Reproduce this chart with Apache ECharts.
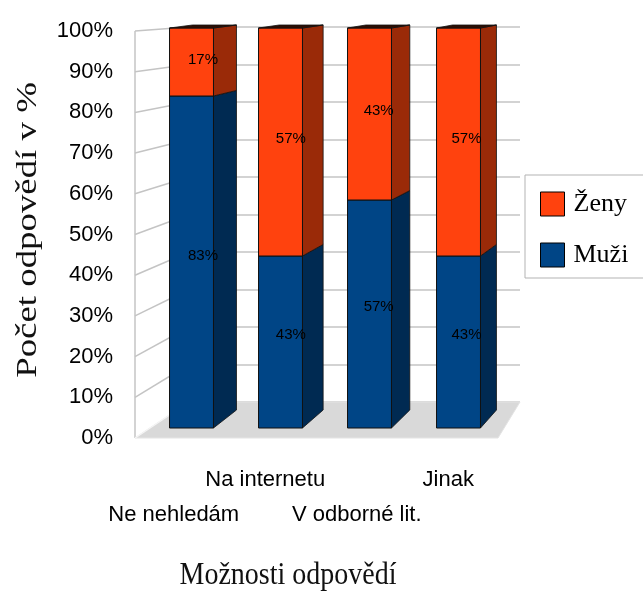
<!DOCTYPE html>
<html>
<head>
<meta charset="utf-8">
<script src="https://cdn.jsdelivr.net/npm/echarts@6/dist/echarts.min.js"></script>
<style>
  html, body { margin: 0; padding: 0; background: #fff; }
  #chart { width: 643px; height: 593px; }
</style>
</head>
<body>
<div id="chart"></div>
<script>
// Answer categories and the share of men / women per answer (percent)
const categories = ['Ne nehledám', 'Na internetu', 'V odborné lit.', 'Jinak'];
const muzi = [83, 43, 57, 43];
const zeny = [17, 57, 43, 57];

// Percent scale of the value axis
const yMin = 0;
const yMax = 100;
const yStep = 10;

const seriesNames = ['Ženy', 'Muži'];

// Colours
const ORANGE = '#ff420e', ORANGE_SIDE = '#9a2a08', ORANGE_TOP = '#2e0e03';
const BLUE = '#004586', BLUE_SIDE = '#002a52';
const GRID_GRAY = '#c4c4c4';
const FLOOR_GRAY = '#d9d9d9';

// Pseudo-3D depth: horizontal shift shrinks towards the right,
// vertical shift grows towards the floor
function depthX(xc) { return 23 - (xc - 191.5) * 0.0263; }
function depthY(y) { return 3 + (y - 28) * 0.0375; }

function makeRenderer(front, side, top) {
  return function (params, api) {
    const cat = api.value(0);
    const lo = api.value(1);
    const hi = api.value(2);
    const isTop = api.value(3);
    const shown = api.value(4);
    const pLo = api.coord([cat, lo]);
    const pHi = api.coord([cat, hi]);
    const bw = api.size([1, 0])[0] * 0.494;
    const xc = pLo[0];
    const x0 = xc - bw / 2, x1 = xc + bw / 2;
    const yB = pLo[1], yT = pHi[1];
    const dx = depthX(xc);
    const dyB = depthY(yB), dyT = depthY(yT);
    const children = [
      {
        type: 'polygon',
        shape: { points: [[x1, yT], [x1 + dx, yT - dyT], [x1 + dx, yB - dyB], [x1, yB]] },
        style: { fill: side, stroke: '#111', lineWidth: 0.8 }
      },
      {
        type: 'rect',
        shape: { x: x0, y: yT, width: bw, height: yB - yT },
        style: { fill: front, stroke: '#111', lineWidth: 1 }
      }
    ];
    if (isTop) {
      children.push({
        type: 'polygon',
        shape: { points: [[x0, yT], [x1, yT], [x1 + dx, yT - dyT], [x0 + dx, yT - dyT]] },
        style: { fill: top, stroke: '#111', lineWidth: 0.8 }
      });
    }
    const yMid = (yT + yB) / 2;
    children.push({
      type: 'text',
      x: xc + dx / 2,
      y: yMid - depthY(yMid) / 2,
      style: {
        text: shown + '%',
        font: '15px "Liberation Sans Narrow", "Liberation Sans", sans-serif',
        fill: '#000',
        align: 'center',
        verticalAlign: 'middle'
      }
    });
    return { type: 'group', children: children };
  };
}

const muziData = muzi.map((v, i) => [i, 0, v, 0, v]);
const zenyData = zeny.map((v, i) => [i, muzi[i], muzi[i] + v, 1, v]);

const chart = echarts.init(document.getElementById('chart'), null, { renderer: 'canvas' });

chart.setOption({
  animation: false,
  backgroundColor: '#fff',
  grid: [
    // front plane of the bars
    { left: 147, width: 356, top: 28, height: 400 },
    // axis labels along the front edge
    { left: 128, width: 366, top: 31, height: 407 },
    // back wall
    { left: 189, width: 331, top: 27, height: 375 }
  ],
  xAxis: [
    { type: 'category', gridIndex: 0, data: categories, show: false },
    {
      type: 'category', gridIndex: 1, data: categories,
      axisLine: { show: false }, axisTick: { show: false },
      axisLabel: {
        interval: 0,
        margin: 24,
        lineHeight: 35,
        fontFamily: '"Liberation Sans", Arial, sans-serif',
        fontSize: 22,
        color: '#000',
        formatter: (v, i) => (i % 2 === 0 ? '\n' + v : v)
      }
    },
    { type: 'value', gridIndex: 2, show: false }
  ],
  yAxis: [
    { type: 'value', gridIndex: 0, min: yMin, max: yMax, show: false },
    {
      type: 'value', gridIndex: 1, min: yMin, max: yMax, interval: yStep,
      axisLine: { show: false }, axisTick: { show: false }, splitLine: { show: false },
      axisLabel: {
        margin: 15,
        formatter: '{value}%',
        fontFamily: '"Liberation Sans", Arial, sans-serif',
        fontSize: 22,
        color: '#000'
      }
    },
    {
      type: 'value', gridIndex: 2, min: yMin, max: yMax, interval: yStep,
      axisLine: { show: false }, axisTick: { show: false }, axisLabel: { show: false },
      splitLine: { show: true, lineStyle: { color: GRID_GRAY, width: 1.5 } }
    }
  ],
  legend: {
    orient: 'vertical',
    left: 525,
    top: 175,
    itemWidth: 24,
    itemHeight: 24,
    itemGap: 25,
    padding: [16, 40, 10, 15],
    borderColor: '#b3b3b3',
    borderWidth: 1,
    backgroundColor: '#fff',
    selectedMode: false,
    textStyle: {
      fontFamily: '"Liberation Serif", "Times New Roman", serif',
      fontSize: 26,
      color: '#000',
      padding: [0, 0, 0, 4]
    },
    data: [
      { name: seriesNames[0], icon: 'rect', itemStyle: { color: ORANGE, borderColor: '#000', borderWidth: 1 } },
      { name: seriesNames[1], icon: 'rect', itemStyle: { color: BLUE, borderColor: '#000', borderWidth: 1 } }
    ]
  },
  series: [
    {
      name: seriesNames[1], type: 'custom', xAxisIndex: 0, yAxisIndex: 0, z: 3,
      itemStyle: { color: BLUE },
      renderItem: makeRenderer(BLUE, BLUE_SIDE, BLUE),
      encode: { x: 0, y: [1, 2] },
      data: muziData
    },
    {
      name: seriesNames[0], type: 'custom', xAxisIndex: 0, yAxisIndex: 0, z: 3,
      itemStyle: { color: ORANGE },
      renderItem: makeRenderer(ORANGE, ORANGE_SIDE, ORANGE_TOP),
      encode: { x: 0, y: [1, 2] },
      data: zenyData
    }
  ]
});

// Walls, floor and axis titles, placed from the value axes' pixel scale
const wallFrontX = 135, wallBackX = 189, floorFrontRight = 498, floorBackRight = 520;
const deco = [];
const floorFrontY = chart.convertToPixel({ yAxisIndex: 1 }, yMin);
const floorBackY = chart.convertToPixel({ yAxisIndex: 2 }, yMin);
deco.push({
  type: 'polygon', z: 0,
  shape: { points: [[wallFrontX, floorFrontY], [floorFrontRight, floorFrontY], [floorBackRight, floorBackY], [wallBackX, floorBackY]] },
  style: { fill: FLOOR_GRAY, stroke: '#e4e4e4', lineWidth: 1 }
});
deco.push({
  type: 'line', z: 1,
  shape: { x1: wallFrontX, y1: chart.convertToPixel({ yAxisIndex: 1 }, yMax), x2: wallFrontX, y2: floorFrontY },
  style: { stroke: GRID_GRAY, lineWidth: 1.5 }
});
for (let v = yMin; v <= yMax; v += yStep) {
  deco.push({
    type: 'line', z: 1,
    shape: {
      x1: wallFrontX, y1: chart.convertToPixel({ yAxisIndex: 1 }, v),
      x2: wallBackX, y2: chart.convertToPixel({ yAxisIndex: 2 }, v)
    },
    style: { stroke: v === yMin ? '#f4f4f4' : GRID_GRAY, lineWidth: 1.5 }
  });
}
deco.push({
  type: 'text', z: 5,
  x: 28, y: 230, rotation: Math.PI / 2, scaleX: 1.27,
  style: {
    text: 'Počet odpovědí v %',
    font: '29px "Liberation Serif", "Times New Roman", serif',
    fill: '#111', align: 'center', verticalAlign: 'middle'
  }
});
deco.push({
  type: 'text', z: 5,
  x: 288, y: 576, scaleY: 1.12,
  style: {
    text: 'Možnosti odpovědí',
    font: '28px "Liberation Serif", "Times New Roman", serif',
    fill: '#111', align: 'center', verticalAlign: 'middle'
  }
});
chart.setOption({ graphic: { elements: deco } });
</script>
</body>
</html>
